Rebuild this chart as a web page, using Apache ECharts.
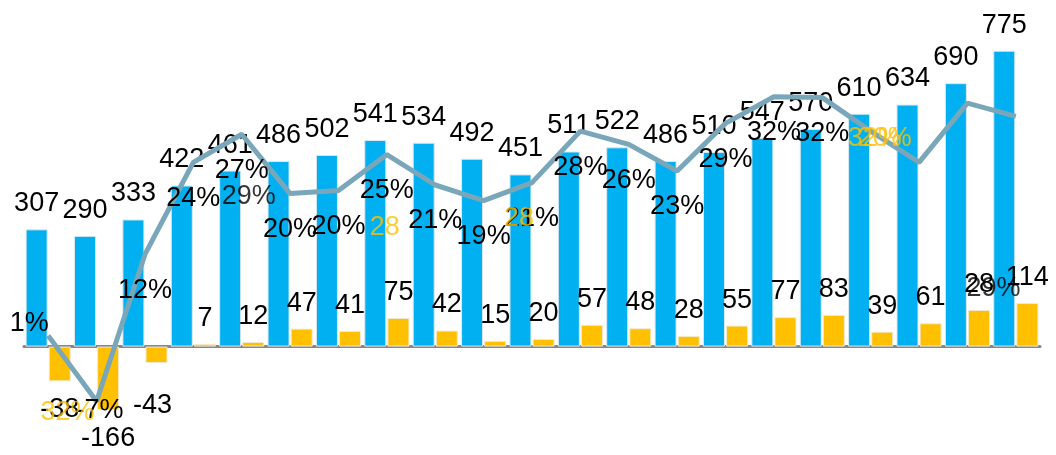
<!DOCTYPE html>
<html>
<head>
<meta charset="utf-8">
<script src="https://cdn.jsdelivr.net/npm/echarts/dist/echarts.min.js"></script>
<style>html,body{margin:0;padding:0;background:#fff}#c{width:1056px;height:455px}</style>
</head>
<body>
<div id="c"></div>
<script>
// ---- data ----
const categories = ['1','2','3','4','5','6','7','8','9','10','11','12','13','14','15','16','17','18','19','20','21'];
const blueValues = [307,290,333,422,461,486,502,541,534,492,451,511,522,486,510,547,570,610,634,690,775];
const yellowValues = [-91,-166,-43,7,12,47,41,75,42,15,20,57,48,28,55,77,83,39,61,96,114];
const yellowLabelTexts = ['-38','-166','-43','7','12','47','41','75','42','15','20','57','48','28','55','77','83','39','61','28','114'];
const linePct = [1.4,-7.0,11.8,23.6,27.2,19.6,20.0,24.6,20.7,18.7,21.0,27.6,25.9,22.5,28.6,32.0,31.9,27.6,23.6,31.2,29.5];
const lineLabelShown = [1,1,1,1,1,1,1,1,1,1,1,1,1,1,1,1,1,0,0,0,0];
// loose text notes seen on the chart: category, value (% axis), text
const noteCats = [1,7,10,17,17,4,19];
const noteVals = [-8.5,15.3,16.35,26.6,26.6,19.2,7.4];
const noteTexts = ['32%','28','28','32%','20%','29%','29%'];

// ---- styles ----
const FONT = 'Liberation Sans, Arial, sans-serif';
const BLUE = '#00B0F0', YELLOW = '#FFC000', LINE = '#7AA6BA';
const noteColors = [YELLOW,YELLOW,YELLOW,YELLOW,YELLOW,'#000','#000'];
const noteDx = [-29,-2,-13,4,14,7,26];
const lineOffsets = {0:[-19,-12], 1:[3,9]};
const yellowOffsets = {2:[-4,14]};

const chart = echarts.init(document.getElementById('c'), null, {renderer:'canvas'});
const lbl = {fontFamily: FONT, fontSize: 27, color: '#000'};

chart.setOption({
  animation: false,
  grid: {left: 24, right: 16, top: 3, height: 439, containLabel: false},
  xAxis: {
    type: 'category', data: categories,
    axisLine: {show: true, onZero: true, lineStyle: {color: '#878787', width: 3}},
    axisTick: {show: false}, axisLabel: {show: false}, splitLine: {show: false}
  },
  yAxis: [
    {type: 'value', min: -250, max: 900, show: false, splitLine: {show: false}},
    {type: 'value', min: -12.23, max: 44.02, show: false, splitLine: {show: false}}
  ],
  series: [
    {
      type: 'bar', data: blueValues, barWidth: 22, barGap: '5%',
      itemStyle: {color: BLUE, borderColor: '#dbe9f0', borderWidth: 1},
      label: Object.assign({show: true, position: 'top', distance: 12}, lbl),
      z: 2
    },
    {
      type: 'bar',
      data: yellowValues.map((v, i) => ({
        value: v,
        label: Object.assign({position: v < 0 ? 'bottom' : 'top', distance: v < 0 ? 15 : 12},
          yellowOffsets[i] ? {offset: yellowOffsets[i]} : {})
      })),
      barWidth: 22,
      itemStyle: {color: YELLOW, borderColor: '#f3ead0', borderWidth: 1},
      label: Object.assign({show: true, formatter: p => yellowLabelTexts[p.dataIndex]}, lbl),
      z: 2
    },
    {
      type: 'line', yAxisIndex: 1,
      data: linePct.map((v, i) => ({
        value: v,
        label: {show: !!lineLabelShown[i], position: 'inside', offset: lineOffsets[i] || [0, 36]}
      })),
      symbol: 'circle', symbolSize: 0, showSymbol: true, smooth: false,
      itemStyle: {color: LINE},
      lineStyle: {color: LINE, width: 5},
      label: Object.assign({show: true, formatter: p => Math.round(p.value) + '%'}, lbl),
      z: 4
    },
    {
      type: 'scatter', yAxisIndex: 1,
      data: noteCats.map((c, i) => ({
        value: [c, noteVals[i]],
        label: {color: noteColors[i], offset: [noteDx[i], 0], formatter: noteTexts[i]}
      })),
      symbolSize: 1, itemStyle: {color: 'rgba(0,0,0,0)'},
      label: Object.assign({show: true, position: 'inside'}, lbl, {color: YELLOW}),
      z: 6
    }
  ]
});
</script>
</body>
</html>
